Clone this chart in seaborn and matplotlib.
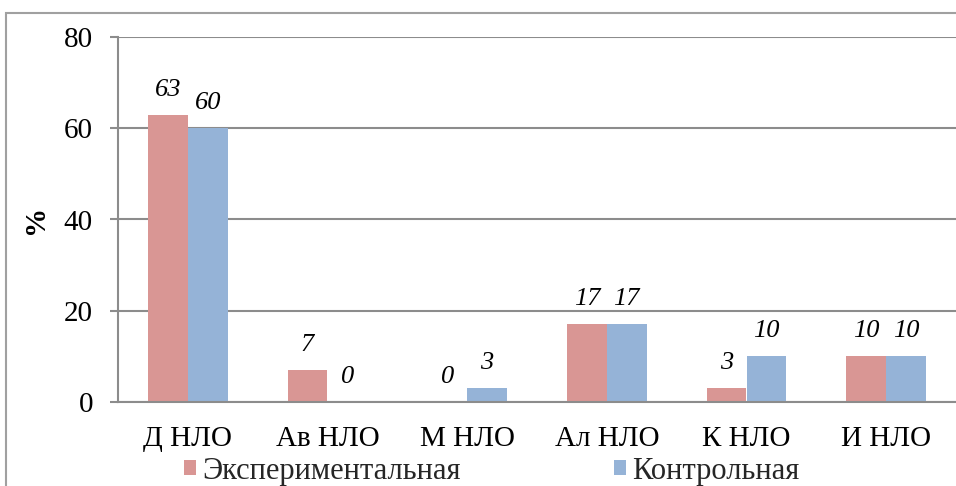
import matplotlib
matplotlib.use("Agg")
import matplotlib.pyplot as plt
import seaborn as sns
import pandas as pd
from matplotlib.patches import Rectangle, Patch

categories = ["Д НЛО", "Ав НЛО", "М НЛО", "Ал НЛО", "К НЛО", "И НЛО"]
experimental = [63, 7, 0, 17, 3, 10]
control = [60, 0, 3, 17, 10, 10]
groups = ["Экспериментальная", "Контрольная"]
colors = ["#D99694", "#95B3D7"]
yticks = [0, 20, 40, 60, 80]

sns.set_theme(style="white")
plt.rcParams["font.family"] = ["Liberation Serif", "DejaVu Serif"]

df = pd.DataFrame({
    "Категория": categories * 2,
    "Группа": [groups[0]] * len(categories) + [groups[1]] * len(categories),
    "Значение": experimental + control,
})

W, H = 956, 486
fig = plt.figure(figsize=(W / 100, H / 100), dpi=100)
ax = fig.add_axes([118 / W, 1 - 402 / H, 1 - 118 / W, (402 - 37) / H])

sns.barplot(data=df, x="Категория", y="Значение", hue="Группа",
            order=categories, hue_order=groups, palette=colors,
            width=0.572, gap=0, saturation=1, errorbar=None,
            linewidth=0, legend=False, ax=ax)

# value labels above each bar
for container, vals in zip(ax.containers, [experimental, control]):
    for bar, v in zip(container, vals):
        ax.annotate(str(v), (bar.get_x() + bar.get_width() / 2, v),
                    xytext=(0, 18), textcoords="offset points",
                    ha="center", va="center", fontsize=19, style="italic",
                    color="black")

grid_c = "#8C8C8C"
ax.set_ylim(0, 80)
ax.set_xlim(-0.5, len(categories) - 0.5)
ax.set_yticks(yticks)
ax.yaxis.grid(True, color=grid_c, lw=1.5)
ax.xaxis.grid(False)
ax.set_axisbelow(True)
for s in ["top", "right"]:
    ax.spines[s].set_visible(False)
for s in ["left", "bottom"]:
    ax.spines[s].set_color(grid_c)
    ax.spines[s].set_linewidth(1.5)
ax.tick_params(axis="y", left=True, length=6, width=1.5, color=grid_c,
               labelsize=21, pad=12, labelcolor="black")
ax.tick_params(axis="x", bottom=False, length=0, labelsize=21, pad=17,
               labelcolor="black")
ax.set_xlabel("")
ax.set_ylabel("%", fontsize=21, fontweight="bold", color="black")
ax.yaxis.set_label_coords(-0.082, 0.5)

fig.legend(handles=[Patch(facecolor=c, edgecolor="none") for c in colors],
           labels=groups, loc="center left",
           bbox_to_anchor=(184 / W, 1 - 471 / H), ncol=2, frameon=False,
           fontsize=22, handlelength=0.4, handleheight=0.4,
           handletextpad=0.2, columnspacing=5.0, borderaxespad=0,
           borderpad=0)

# outer chart frame
fig.add_artist(Rectangle((6 / W, -0.2), 1.2, 1.2 - 13 / H,
                         transform=fig.transFigure, fill=False,
                         edgecolor="#A0A0A0", lw=1.5, clip_on=False))

fig.savefig("out.png", dpi=100)
